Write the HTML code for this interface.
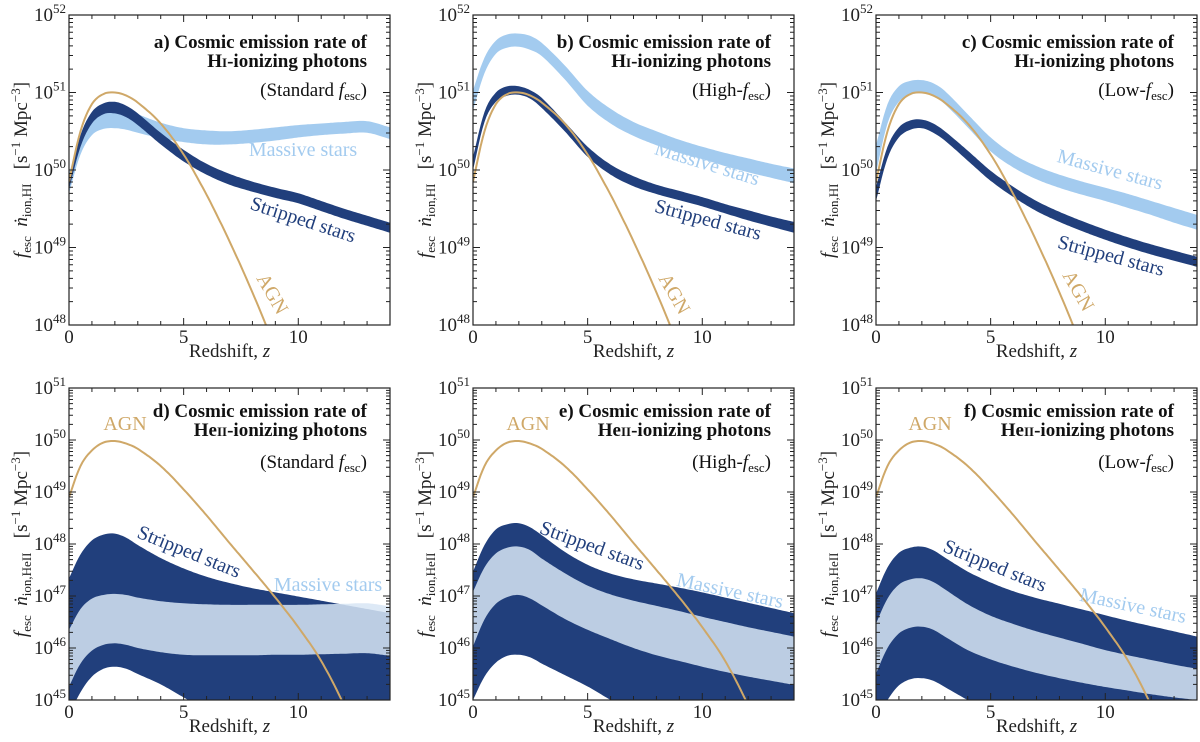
<!DOCTYPE html>
<html><head><meta charset="utf-8">
<style>
html,body{margin:0;padding:0;background:#fff;overflow:hidden;width:1200px;height:742px;}
svg{display:block;overflow:hidden;}
text{font-family:"Liberation Serif","DejaVu Serif",serif;}
</style></head>
<body>
<svg id="fig" width="1200" height="742" viewBox="0 0 1200 742" xmlns="http://www.w3.org/2000/svg" font-family="Liberation Serif, DejaVu Serif, serif"></svg>
<script>
const Z = [0,0.5,1,1.5,2,2.5,3,4,5,6,7,8,9,10,11,12,13,14];
const agnHI = [49.85,50.5,50.85,50.98,51.0,50.96,50.87,50.6,50.2,49.68,49.08,48.42,47.7,46.95,46.1,45.2,44.3,43.4];
const agnHeII = [48.9,49.5,49.8,49.95,49.98,49.93,49.83,49.5,49.05,48.55,48.02,47.5,46.97,46.4,45.75,44.9,43.9,42.9];

const aMassTop = [49.95,50.45,50.68,50.78,50.8,50.78,50.72,50.61,50.54,50.51,50.5,50.52,50.55,50.58,50.6,50.62,50.63,50.55];
const aMassBot = [49.7,50.2,50.45,50.53,50.54,50.52,50.48,50.41,50.36,50.33,50.33,50.35,50.38,50.42,50.45,50.47,50.48,50.4];
const aStrTop = [49.85,50.45,50.75,50.86,50.88,50.83,50.73,50.48,50.26,50.08,49.95,49.85,49.77,49.7,49.6,49.5,49.41,49.32];
const aStrBot = [49.75,50.3,50.6,50.72,50.73,50.68,50.58,50.33,50.11,49.94,49.81,49.72,49.64,49.57,49.47,49.37,49.28,49.19];

const bMassTop = [51.03,51.45,51.67,51.75,51.76,51.73,51.64,51.35,51.02,50.79,50.62,50.5,50.39,50.3,50.22,50.15,50.08,50.02];
const bMassBot = [50.77,51.25,51.5,51.58,51.59,51.55,51.47,51.17,50.83,50.6,50.44,50.32,50.22,50.14,50.05,49.97,49.9,49.83];
const bStrTop = [50.17,50.75,51.0,51.08,51.08,51.03,50.93,50.62,50.3,50.07,49.92,49.81,49.73,49.65,49.56,49.48,49.4,49.33];
const bStrBot = [50.0,50.62,50.88,50.96,50.97,50.92,50.8,50.5,50.17,49.94,49.79,49.69,49.61,49.53,49.44,49.35,49.27,49.19];

const cMassTop = [50.32,50.85,51.08,51.15,51.16,51.12,51.02,50.72,50.42,50.2,50.05,49.94,49.85,49.77,49.69,49.6,49.51,49.42];
const cMassBot = [49.96,50.6,50.88,50.97,50.99,50.95,50.85,50.55,50.24,50.03,49.88,49.77,49.68,49.6,49.51,49.42,49.32,49.23];
const cStrTop = [49.78,50.3,50.55,50.64,50.65,50.6,50.5,50.25,49.99,49.78,49.6,49.46,49.34,49.23,49.13,49.04,48.96,48.88];
const cStrBot = [49.6,50.15,50.42,50.52,50.54,50.48,50.38,50.12,49.86,49.65,49.47,49.33,49.21,49.1,49.0,48.91,48.83,48.75];

const dStrTop = [47.34,47.8,48.07,48.18,48.2,48.12,47.98,47.73,47.53,47.37,47.25,47.15,47.07,46.99,46.91,46.83,46.75,46.67];
const dStrBot = [44.7,45.15,45.45,45.6,45.64,45.6,45.5,45.3,45.05,44.8,44.6,44.4,44.2,44.0,43.8,43.6,43.4,43.2];
const dMassTop = [46.35,46.75,46.95,47.02,47.04,47.02,46.97,46.9,46.86,46.84,46.83,46.83,46.83,46.83,46.84,46.85,46.86,46.8];
const dMassBot = [45.26,45.7,45.95,46.06,46.09,46.06,46.0,45.92,45.87,45.86,45.86,45.86,45.87,45.87,45.88,45.89,45.9,45.85];

const eStrTop = [47.47,47.98,48.28,48.38,48.4,48.32,48.17,47.85,47.6,47.43,47.32,47.24,47.16,47.07,46.97,46.87,46.77,46.67];
const eStrBot = [45.0,45.45,45.72,45.85,45.87,45.82,45.7,45.48,45.26,45.0,44.75,44.5,44.3,44.1,43.9,43.7,43.5,43.3];
const eMassTop = [47.08,47.55,47.82,47.93,47.95,47.88,47.72,47.44,47.2,47.03,46.91,46.81,46.71,46.6,46.5,46.4,46.31,46.22];
const eMassBot = [46.03,46.55,46.85,46.98,47.02,46.95,46.82,46.56,46.35,46.17,46.0,45.86,45.75,45.64,45.54,45.45,45.37,45.29];

const fStrTop = [47.05,47.55,47.83,47.93,47.95,47.88,47.74,47.47,47.26,47.09,46.96,46.85,46.74,46.63,46.52,46.42,46.32,46.22];
const fStrBot = [44.6,45.0,45.28,45.4,45.42,45.37,45.25,45.0,44.8,44.6,44.4,44.2,44.0,43.8,43.6,43.4,43.2,43.0];
const fMassTop = [46.47,46.95,47.22,47.32,47.34,47.27,47.13,46.84,46.62,46.46,46.32,46.2,46.08,45.96,45.86,45.77,45.68,45.6];
const fMassBot = [45.51,46.0,46.28,46.39,46.41,46.35,46.22,45.96,45.78,45.64,45.52,45.42,45.33,45.25,45.18,45.11,45.05,45.0];

const xTicks = [0,5,10];
const NS = "http://www.w3.org/2000/svg";
const svg = document.getElementById('fig');
const FF = '"Liberation Serif","DejaVu Serif",serif';
function mk(tag, attrs, parent){const e=document.createElementNS(NS,tag);for(const k in attrs)e.setAttribute(k,attrs[k]);if(tag==='text')e.style.fontFamily=FF;(parent||svg).appendChild(e);return e;}

const C_MASS='#a3cbef', C_STR='#213f7c', C_AGN='#cfa868';

function interp(vals){
  const n=Z.length, m=[];
  for(let i=0;i<n;i++){
    if(i===0) m.push((vals[1]-vals[0])/(Z[1]-Z[0]));
    else if(i===n-1) m.push((vals[n-1]-vals[n-2])/(Z[n-1]-Z[n-2]));
    else m.push((vals[i+1]-vals[i-1])/(Z[i+1]-Z[i-1]));
  }
  const out=[];
  for(let i=0;i<n-1;i++){
    const h=Z[i+1]-Z[i], steps=Math.max(4,Math.round(h*12));
    for(let s=0;s<steps;s++){
      const t=s/steps,t2=t*t,t3=t2*t;
      const v=(2*t3-3*t2+1)*vals[i]+(t3-2*t2+t)*h*m[i]+(-2*t3+3*t2)*vals[i+1]+(t3-t2)*h*m[i+1];
      out.push([Z[i]+t*h,v]);
    }
  }
  out.push([Z[n-1],vals[n-1]]);
  return out;
}

const panels = [
 {id:'a',L:69,T:15,B:325,lo:48,hi:52,ion:'HI',title1:'a) Cosmic emission rate of',title2:['H','I','-ionizing photons'],sub:'Standard',
  mass:[aMassTop,aMassBot],str:[aStrTop,aStrBot],agn:agnHI,
  labels:[{t:'Massive stars',c:C_MASS,x:303,y:156,r:0},{t:'Stripped stars',c:C_STR,x:303,y:226,r:18},{t:'AGN',c:C_AGN,x:272,y:300,r:60}]},
 {id:'b',L:473,T:15,B:325,lo:48,hi:52,ion:'HI',title1:'b) Cosmic emission rate of',title2:['H','I','-ionizing photons'],sub:'High',
  mass:[bMassTop,bMassBot],str:[bStrTop,bStrBot],agn:agnHI,
  labels:[{t:'Massive stars',c:C_MASS,x:707,y:170,r:17},{t:'Stripped stars',c:C_STR,x:708,y:226,r:15},{t:'AGN',c:C_AGN,x:674,y:300,r:60}]},
 {id:'c',L:876,T:15,B:325,lo:48,hi:52,ion:'HI',title1:'c) Cosmic emission rate of',title2:['H','I','-ionizing photons'],sub:'Low',
  mass:[cMassTop,cMassBot],str:[cStrTop,cStrBot],agn:agnHI,
  labels:[{t:'Massive stars',c:C_MASS,x:1110,y:176,r:15},{t:'Stripped stars',c:C_STR,x:1111,y:262,r:15},{t:'AGN',c:C_AGN,x:1078,y:297,r:60}]},
 {id:'d',L:69,T:388,B:700,lo:45,hi:51,ion:'HeII',title1:'d) Cosmic emission rate of',title2:['He','II','-ionizing photons'],sub:'Standard',
  mass:[dMassTop,dMassBot],str:[dStrTop,dStrBot],agn:agnHeII,
  labels:[{t:'AGN',c:C_AGN,x:125,y:430,r:0},{t:'Stripped stars',c:C_STR,x:189,y:558,r:22},{t:'Massive stars',c:C_MASS,x:328,y:591,r:0}]},
 {id:'e',L:473,T:388,B:700,lo:45,hi:51,ion:'HeII',title1:'e) Cosmic emission rate of',title2:['He','II','-ionizing photons'],sub:'High',
  mass:[eMassTop,eMassBot],str:[eStrTop,eStrBot],agn:agnHeII,
  labels:[{t:'AGN',c:C_AGN,x:528,y:430,r:0},{t:'Stripped stars',c:C_STR,x:592,y:552,r:20},{t:'Massive stars',c:C_MASS,x:730,y:597,r:12}]},
 {id:'f',L:876,T:388,B:700,lo:45,hi:51,ion:'HeII',title1:'f) Cosmic emission rate of',title2:['He','II','-ionizing photons'],sub:'Low',
  mass:[fMassTop,fMassBot],str:[fStrTop,fStrBot],agn:agnHeII,
  labels:[{t:'AGN',c:C_AGN,x:930,y:430,r:0},{t:'Stripped stars',c:C_STR,x:995,y:572,r:22},{t:'Massive stars',c:C_MASS,x:1133,y:612,r:12}]}
];

panels.forEach(p=>{
  const W=321,R=p.L+W,zmax=14;
  const X=z=>p.L+z/zmax*W;
  const Y=v=>p.B-(v-p.lo)/(p.hi-p.lo)*(p.B-p.T);
  const g=mk('g',{});
  
  
  const cp=mk('clipPath',{id:'clip'+p.id},g);
  mk('rect',{x:p.L,y:p.T,width:W,height:p.B-p.T},cp);
  const plot=mk('g',{'clip-path':'url(#clip'+p.id+')'},g);
  const toPts=vals=>interp(vals).map(q=>[X(q[0]),Y(q[1])]);
  function band(top,bot,fill,name,op){
    const tp=toPts(top), bp=toPts(bot).reverse();
    const d='M'+tp.concat(bp).map(q=>q[0].toFixed(1)+','+q[1].toFixed(1)).join('L')+'Z';
    const e=mk('path',{d:d,fill:fill,'fill-opacity':op||1},plot);
    
    
  }
  if(p.ion==='HI'){
    band(p.mass[0],p.mass[1],C_MASS,'massive-stars-band');
    band(p.str[0],p.str[1],C_STR,'stripped-stars-band');
  } else {
    band(p.str[0],p.str[1],C_STR,'stripped-stars-band');
    band(p.mass[0],p.mass[1],'rgb(215,229,245)','massive-stars-band',0.853);
  }
  const ap=toPts(p.agn);
  const al=mk('path',{d:'M'+ap.map(q=>q[0].toFixed(1)+','+q[1].toFixed(1)).join('L'),fill:'none',stroke:C_AGN,'stroke-width':2},plot);
  
  
  const fr=mk('rect',{x:p.L,y:p.T,width:W,height:p.B-p.T,fill:'none',stroke:'#222','stroke-width':1.2},g);
  
  
  let ticks='';
  for(let dcd=p.lo;dcd<=p.hi;dcd++){
    const y=Y(dcd);
    ticks+=`M${p.L},${y}h7M${R},${y}h-7`;
    if(dcd<p.hi)for(let m=2;m<=9;m++){const ym=Y(dcd+Math.log10(m));ticks+=`M${p.L},${ym}h4M${R},${ym}h-4`;}
    const t=mk('text',{x:p.L-3,y:y+6,'text-anchor':'end','font-size':19,fill:'#222'},g);
    
    
    t.innerHTML=`10<tspan dy="-8" font-size="13">${dcd}</tspan>`;
  }
  for(let z=0;z<=zmax;z++){
    const x=X(z),len=(z%5===0)?7:4;
    ticks+=`M${x},${p.B}v-${len}M${x},${p.T}v${len}`;
  }
  mk('path',{d:ticks,stroke:'#222','stroke-width':1,fill:'none'},g);
  xTicks.forEach(v=>{
    const t=mk('text',{x:X(v),y:p.B+18,'text-anchor':'middle','font-size':19,fill:'#222'},g);
    
    
    t.textContent=v;
  });
  const xl=mk('text',{x:p.L+W/2,y:p.B+32,'text-anchor':'middle','font-size':19,fill:'#222'},g);
  
  
  xl.innerHTML='Redshift, <tspan font-style="italic">z</tspan>';
  const yc=(p.T+p.B)/2, yx=p.L-42;
  const yl=mk('text',{x:yx,y:yc,'text-anchor':'middle','font-size':19,fill:'#222',transform:`rotate(-90 ${yx} ${yc})`},g);
  
  
  const ionSub=p.ion==='HI'?'ion,HI':'ion,HeII';
  yl.innerHTML=`<tspan font-style="italic">f</tspan><tspan dy="4" font-size="13">esc</tspan><tspan dy="-4" xml:space="preserve">  </tspan><tspan font-style="italic">ṅ</tspan><tspan dy="4" font-size="13">${ionSub}</tspan><tspan dy="-4" xml:space="preserve">   [s</tspan><tspan dy="-7" font-size="13">−1</tspan><tspan dy="7" xml:space="preserve"> Mpc</tspan><tspan dy="-7" font-size="13">−3</tspan><tspan dy="7">]</tspan>`;
  const tx=R-23;
  const by=p.ion==='HI'?48:417;
  const t1=mk('text',{x:tx,y:by,'text-anchor':'end','font-size':19,'font-weight':'bold',fill:'#111'},g);
  
  
  t1.textContent=p.title1;
  const t2=mk('text',{x:tx,y:by+19,'text-anchor':'end','font-size':19,'font-weight':'bold',fill:'#111'},g);
  
  
  t2.innerHTML=`${p.title2[0]}<tspan font-size="13">${p.title2[1]}</tspan>${p.title2[2]}`;
  const t3=mk('text',{x:tx,y:by+(p.ion==='HI'?48:51),'text-anchor':'end','font-size':19,fill:'#111'},g);
  
  
  t3.innerHTML = p.sub==='Standard' ? `(Standard <tspan font-style="italic">f</tspan><tspan dy="4" font-size="13">esc</tspan><tspan dy="-4">)</tspan>`
     : `(${p.sub}-<tspan font-style="italic">f</tspan><tspan dy="4" font-size="13">esc</tspan><tspan dy="-4">)</tspan>`;
  p.labels.forEach(l=>{
    const e=mk('text',{x:l.x,y:l.y,'text-anchor':'middle','font-size':20,fill:l.c,transform:`rotate(${l.r} ${l.x} ${l.y-6})`},g);
    
    
    e.textContent=l.t;
  });
});
</script>
</body></html>
